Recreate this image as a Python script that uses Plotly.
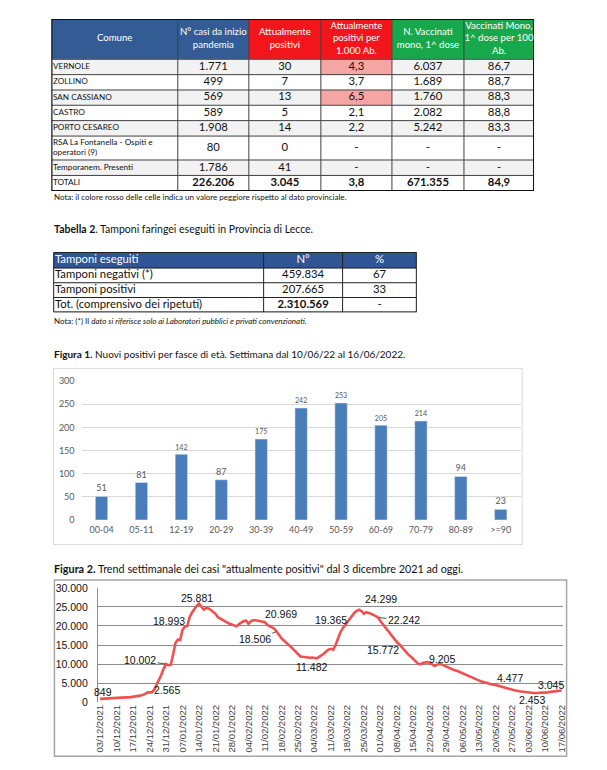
import plotly.graph_objects as go
import pandas as pd

W, H = 607, 770

# ---------------- Tabella 1 ----------------
comuni = ["VERNOLE", "ZOLLINO", "SAN CASSIANO", "CASTRO", "PORTO CESAREO",
          "RSA La Fontanella - Ospiti e<br>operatori (9)", "Temporanem. Presenti", "TOTALI"]
casi_totali = [1771, 499, 569, 589, 1908, 80, 1786, 226206]
attualmente_positivi = [30, 7, 13, 5, 14, 0, 41, 3045]
positivi_per_1000 = [4.3, 3.7, 6.5, 2.1, 2.2, None, None, 3.8]
vaccinati_1dose = [6037, 1689, 1760, 2082, 5242, None, None, 671355]
vaccinati_per_100 = [86.7, 88.7, 88.3, 88.8, 83.3, None, None, 84.9]
peggiore_provincia = [True, False, True, False, False, False, False, False]
header_t1 = ["Comune", "N° casi da inizio<br>pandemia", "Attualmente<br>positivi",
             "Attualmente<br>positivi per<br>1.000 Ab.", "N. Vaccinati<br>mono, 1^ dose",
             "Vaccinati Mono,<br>1^ dose per 100<br>Ab."]

# ---------------- Tabella 2 ----------------
tamponi_voci = ["Tamponi negativi (*)", "Tamponi positivi", "Tot. (comprensivo dei ripetuti)"]
tamponi_n = [459834, 207665, 2310569]
tamponi_pct = [67, 33, None]
header_t2 = ["Tamponi eseguiti", "N°", "%"]

# ---------------- Figura 1 ----------------
fasce_eta = ["00-04", "05-11", "12-19", "20-29", "30-39", "40-49", "50-59",
             "60-69", "70-79", "80-89", ">=90"]
nuovi_positivi = [51, 81, 142, 87, 175, 242, 253, 205, 214, 94, 23]

# ---------------- Figura 2 ----------------
trend_start = "2021-12-03"
trend_days = [0, 3, 7, 10, 13, 15, 17, 19, 20, 21, 22, 23, 24, 25, 26, 27, 28, 29, 30, 31,
              32, 33, 34, 35, 36, 37, 38, 39, 40, 41, 42, 43, 44, 45, 46, 47, 48, 49, 50, 51,
              52, 53, 54, 55, 56, 57, 58, 59, 60, 61, 62, 63, 64, 65, 66, 67, 68, 69, 70, 71,
              72, 73, 74, 75, 76, 77, 78, 79, 80, 81, 82, 83, 84, 85, 86, 87, 88, 89, 90, 91,
              92, 93, 94, 95, 96, 97, 98, 99, 100, 101, 102, 103, 104, 105, 106, 107, 108, 109, 110, 111,
              112, 113, 114, 115, 116, 117, 118, 119, 120, 121, 122, 123, 124, 125, 126, 127, 128, 129, 130, 131,
              132, 133, 134, 135, 136, 137, 138, 139, 140, 141, 142, 143, 144, 145, 146, 147, 148, 149, 150, 152,
              154, 156, 158, 160, 162, 164, 166, 168, 170, 172, 174, 176, 178, 180, 182, 184, 186, 188, 190, 192,
              194, 196]
trend_values = [849, 950, 1000, 1100, 1300, 1500, 1700, 2100, 2500, 2600, 2565, 3300, 4500, 5800, 7200, 8800, 10002, 9700, 9800, 12500,
                15500, 16400, 16300, 18993, 19800, 20000, 22300, 23500, 24500, 25300, 25881, 25000, 24300, 24700, 24600, 24200, 23800, 23200, 22300, 21900,
                21600, 21300, 20900, 20600, 20300, 20000, 19900, 20500, 21000, 21300, 21400, 20600, 21200, 21500, 21500, 21400, 21200, 21000, 20969, 20300,
                19900, 19700, 19300, 18506, 17600, 16800, 16200, 15700, 15100, 14500, 13900, 13300, 12600, 12000, 11900, 11800, 11700, 11650, 11700, 11600,
                11482, 11900, 12200, 12700, 13300, 13800, 14000, 13800, 15000, 16800, 18300, 19365, 20200, 20900, 21600, 22500, 23500, 24000, 24299, 23900,
                23200, 23600, 23500, 23200, 22900, 22600, 22242, 21300, 20500, 19700, 18800, 18000, 17200, 16500, 15772, 15200, 14500, 13800, 13000, 12400,
                11900, 11300, 10800, 10100, 9900, 10300, 10400, 10500, 10300, 9900, 9500, 9800, 10000, 9900, 9600, 9205, 9000, 8800, 8500, 8100,
                7500, 6900, 6400, 5900, 5400, 5000, 4700, 4477, 4100, 3700, 3400, 3100, 2850, 2650, 2453, 2400, 2420, 2450, 2550, 2750,
                2950, 3045]
trend_label_days = [0, 22, 28, 35, 42, 70, 75, 92, 103, 110, 118, 126, 147, 168, 182, 196]
trend_leader_days = [28, 75, 118]

trend_dates = pd.to_datetime(trend_start) + pd.to_timedelta(trend_days, unit="D")


def fmt_int(v):
    return "-" if v is None else f"{v:,}".replace(",", ".")


def fmt_dec(v):
    return "-" if v is None else f"{v:.1f}".replace(".", ",")


def px(x):
    return x / W


def py(y):
    return 1 - y / H


def cumsum(a):
    out = [0]
    for v in a:
        out.append(out[-1] + v)
    return out


FONT = "Lato"
PALETTE = ["#FFFFFF", "#F2F2F2", "#345C94", "#F2161C", "#18A84C", "#F6A5A5", "#2F5597"]
fig = go.Figure()
layout_axes = {}


def add_table(idx, left, top, col_w, row_h, color_codes, texts, sizes, tcolors, aligns,
              grid_color, outer_w):
    xe, ye = cumsum(col_w), cumsum(row_h)
    tw, th = xe[-1], ye[-1]
    xa, ya = f"x{idx}", f"y{idx}"
    layout_axes[f"xaxis{idx}"] = dict(domain=[px(left), px(left + tw)], range=[0, tw],
                                      visible=False, anchor=ya, fixedrange=True)
    layout_axes[f"yaxis{idx}"] = dict(domain=[py(top + th), py(top)], range=[th, 0],
                                      visible=False, anchor=xa, fixedrange=True)
    m = len(PALETTE)
    fig.add_trace(go.Heatmap(z=color_codes, x=xe, y=ye, xaxis=xa, yaxis=ya,
                             colorscale=[[i / (m - 1), c] for i, c in enumerate(PALETTE)],
                             zmin=0, zmax=m - 1, showscale=False, hoverinfo="skip"))
    gx, gy = [], []
    for x in xe:
        gx += [x, x, None]
        gy += [0, th, None]
    for y in ye:
        gx += [0, tw, None]
        gy += [y, y, None]
    fig.add_trace(go.Scatter(x=gx, y=gy, xaxis=xa, yaxis=ya, mode="lines",
                             line=dict(color=grid_color, width=1), hoverinfo="skip",
                             showlegend=False, cliponaxis=False))
    fig.add_trace(go.Scatter(x=[0, tw, tw, 0, 0], y=[0, 0, th, th, 0], xaxis=xa, yaxis=ya,
                             mode="lines", line=dict(color="#111111", width=outer_w),
                             hoverinfo="skip", showlegend=False, cliponaxis=False))
    tx, ty, tt, ts, tc, tp = [], [], [], [], [], []
    for r in range(len(row_h)):
        for c in range(len(col_w)):
            if aligns[r][c] == "left":
                tx.append(xe[c] + 1.5)
                tp.append("middle right")
            else:
                tx.append((xe[c] + xe[c + 1]) / 2)
                tp.append("middle center")
            ty.append((ye[r] + ye[r + 1]) / 2)
            tt.append(texts[r][c])
            ts.append(sizes[r][c])
            tc.append(tcolors[r][c])
    fig.add_trace(go.Scatter(x=tx, y=ty, text=tt, mode="text", textposition=tp,
                             textfont=dict(family=FONT, size=ts, color=tc),
                             xaxis=xa, yaxis=ya, hoverinfo="skip", showlegend=False,
                             cliponaxis=False))


# ---- Table 1 ----
n = len(comuni)
body_t1 = [[comuni[i], fmt_int(casi_totali[i]), fmt_int(attualmente_positivi[i]),
            fmt_dec(positivi_per_1000[i]), fmt_int(vaccinati_1dose[i]),
            fmt_dec(vaccinati_per_100[i])] for i in range(n)]
body_t1[-1] = [body_t1[-1][0]] + ["<b>" + t + "</b>" for t in body_t1[-1][1:]]
codes_t1 = [[2, 2, 3, 3, 4, 4]]
for i in range(n):
    bg = 1 if i % 2 == 0 else 0
    codes_t1.append([bg, bg, bg, 5 if peggiore_provincia[i] else bg, bg, bg])
texts_t1 = [header_t1] + body_t1
sizes_t1 = [[9.6] * 6] + [[8.2] + [11.3] * 5 for _ in range(n)]
colors_t1 = [["white"] * 6] + [["#111111"] * 6 for _ in range(n)]
aligns_t1 = [["center"] * 6] + [["left"] + ["center"] * 5 for _ in range(n)]
add_table(3, 40, 5, [128, 72, 73, 72, 73, 71],
          [41, 15.6, 15.6, 15.5, 15.6, 15.7, 24.3, 15.7, 15.9],
          codes_t1, texts_t1, sizes_t1, colors_t1, aligns_t1, "#404040", 2)

# ---- Table 2 ----
body_t2 = [[tamponi_voci[i], fmt_int(tamponi_n[i]), fmt_int(tamponi_pct[i])] for i in range(3)]
body_t2[-1][1] = "<b>" + body_t2[-1][1] + "</b>"
codes_t2 = [[6, 6, 6]] + [[0, 0, 0] for _ in range(3)]
texts_t2 = [header_t2] + body_t2
sizes_t2 = [[11.3] * 3] + [[11.3] * 3 for _ in range(3)]
colors_t2 = [["white"] * 3] + [["#111111"] * 3 for _ in range(3)]
aligns_t2 = [["left", "center", "center"]] + [["left", "center", "center"] for _ in range(3)]
add_table(4, 42, 242, [213, 80, 75], [16, 15, 15, 15],
          codes_t2, texts_t2, sizes_t2, colors_t2, aligns_t2, "#222222", 1.5)

# ---- Figure 1 bars ----
fig.add_trace(go.Bar(
    x=fasce_eta, y=nuovi_positivi, xaxis="x", yaxis="y",
    marker=dict(color="#4A7EBB"), text=nuovi_positivi, textposition="outside",
    textfont=dict(family=FONT, size=9, color="#595959"), cliponaxis=False,
    showlegend=False,
))

# ---- Figure 2 line ----
fig.add_trace(go.Scatter(
    x=trend_dates, y=trend_values, xaxis="x2", yaxis="y2", mode="lines",
    line=dict(color="#F0504F", width=2.6), showlegend=False,
))

label_shift = {0: (3, 6.5), 22: (15, 2), 28: (-26, 3.6), 35: (-13.4, 9), 42: (-2.4, 6),
               70: (16, 8), 75: (-22, -7.6), 92: (-5, -8.7), 103: (-11.5, 8), 110: (22, 10.7),
               118: (26, -3), 126: (-14, -7.7), 147: (-4, 8.4), 168: (14, 6.7), 182: (3.6, -7.2),
               196: (-11, 5.5)}
annotations = []
for d in trend_label_days:
    i = trend_days.index(d)
    sx, sy = label_shift[d]
    lab = dict(x=trend_dates[i], y=trend_values[i], xref="x2", yref="y2",
               text=fmt_int(trend_values[i]),
               xanchor="center", yanchor="middle",
               font=dict(family="Liberation Sans", size=10.5, color="#111111"))
    if d in trend_leader_days:
        lab.update(showarrow=True, arrowhead=0, arrowwidth=0.8, arrowcolor="#222222",
                   ax=sx, ay=-sy, standoff=1)
    else:
        lab.update(showarrow=False, xshift=sx, yshift=sy)
    annotations.append(lab)


def note(x, y, text, size):
    annotations.append(dict(x=px(x), y=py(y), xref="paper", yref="paper", text=text,
                            showarrow=False, xanchor="left", yanchor="middle",
                            font=dict(family=FONT, size=size, color="#111111")))


note(41, 186, "Nota: il colore rosso delle celle indica un valore peggiore rispetto al dato provinciale.", 8)
note(41, 218, "<b>Tabella 2</b>. Tamponi faringei eseguiti in Provincia di Lecce.", 10.5)
note(41, 312, "Nota: (*) Il <i>dato si riferisce solo ai Laboratori pubblici e privati convenzionati.</i>", 8)
note(41, 345, "<b>Figura 1.</b> Nuovi positivi per fasce di età. Settimana dal 10/06/22 al 16/06/2022.", 10)
note(41, 563, "<b>Figura 2.</b> Trend settimanale dei casi \"attualmente positivi\" dal 3 dicembre 2021 ad oggi.", 10.8)

shapes = [
    dict(type="rect", xref="paper", yref="paper", x0=px(42), x1=px(517), y0=py(539), y1=py(360),
         line=dict(color="#D9D9D9", width=1)),
    dict(type="rect", xref="paper", yref="paper", x0=px(43), x1=px(562), y0=py(754), y1=py(575),
         line=dict(color="#A6A6A6", width=1.5)),
]

fig.update_layout(
    width=W, height=H, margin=dict(l=0, r=0, t=0, b=0),
    paper_bgcolor="white", plot_bgcolor="rgba(0,0,0,0)",
    separators=",.", showlegend=False, bargap=0.69,
    font=dict(family=FONT),
    annotations=annotations, shapes=shapes,
    xaxis=dict(domain=[px(70.5), px(515.5)], anchor="y", type="category", showgrid=False,
               showline=False, ticks="", fixedrange=True, ticklabelstandoff=3,
               tickfont=dict(family=FONT, size=9, color="#595959")),
    yaxis=dict(domain=[py(514), py(373)], anchor="x", range=[0, 300], dtick=50,
               showgrid=True, gridcolor="#D9D9D9", gridwidth=1, zeroline=False,
               ticklabelstandoff=6, fixedrange=True,
               tickfont=dict(family=FONT, size=9, color="#595959"), ticks=""),
    xaxis2=dict(domain=[px(87), px(558)], anchor="y2", type="date",
                range=["2021-12-02 01:00", "2022-06-17 10:00"],
                tick0="2021-12-03", dtick=7 * 86400000, tickformat="%d/%m/%Y",
                tickangle=-90, showgrid=False, showline=False, ticks="", fixedrange=True,
                tickfont=dict(family="Liberation Sans", size=9.5, color="#404040")),
    yaxis2=dict(domain=[py(699), py(583)], anchor="x2", range=[0, 30000], dtick=5000,
                tickformat=",d", showgrid=True, gridcolor="#8C8C8C", gridwidth=1,
                zeroline=False, showline=True, linecolor="#8C8C8C", linewidth=1,
                ticklabelstandoff=7, fixedrange=True,
                ticks="", tickfont=dict(family="Liberation Sans", size=10.5, color="#111111")),
    **layout_axes,
)

fig.write_html("out.html")
